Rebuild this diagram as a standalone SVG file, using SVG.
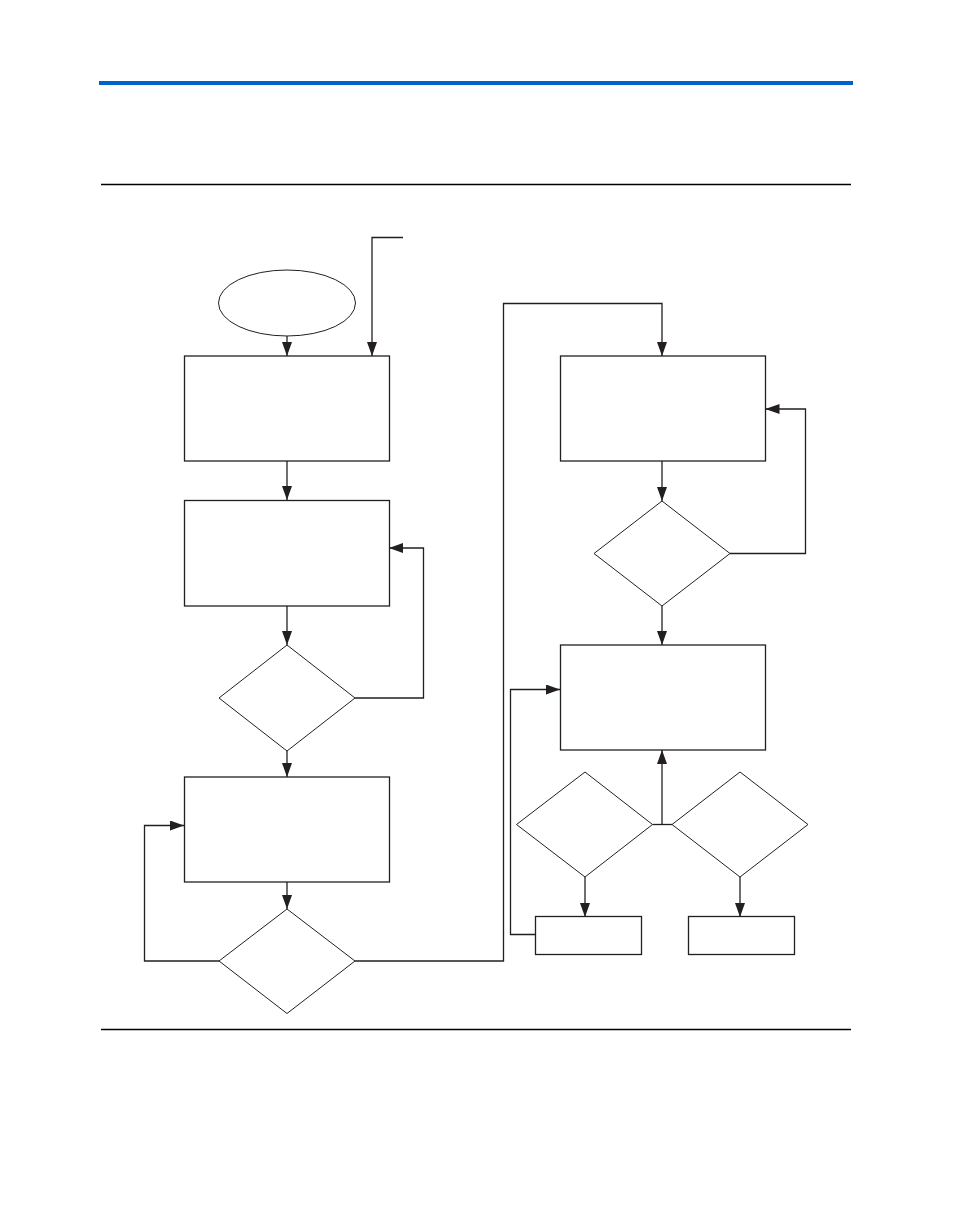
<svg xmlns="http://www.w3.org/2000/svg" width="954" height="1227" viewBox="0 0 954 1227">
<style>
.node{fill:#fff;stroke:#231f20;stroke-width:1.3}
.ell{fill:#fff;stroke:#231f20;stroke-width:1}
.dia{fill:#fff;stroke:#231f20;stroke-width:1}
.conn{fill:none;stroke:#231f20;stroke-width:1.3}
.rule{stroke:#000;stroke-width:1.5}
</style>
<defs>
<marker id="ah" markerUnits="userSpaceOnUse" markerWidth="14" markerHeight="10" refX="14" refY="5" orient="auto">
<path d="M0,0 L14,5 L0,10 z" fill="#231f20"/>
</marker>
</defs>
<rect width="954" height="1227" fill="#fff"/>
<rect x="99" y="81" width="754" height="4" fill="#0062cc"/>
<line class="rule" x1="101" y1="184.5" x2="851" y2="184.5"/>
<line class="rule" x1="101" y1="1029.5" x2="851" y2="1029.5"/>

<g id="connectors">
<path class="conn" d="M287,336 V356" marker-end="url(#ah)"/>
<path class="conn" d="M403,237.5 H372 V356" marker-end="url(#ah)"/>
<path class="conn" d="M287,461 V500" marker-end="url(#ah)"/>
<path class="conn" d="M287,606 V645" marker-end="url(#ah)"/>
<path class="conn" d="M355,698 H423.5 V548 H389" marker-end="url(#ah)"/>
<path class="conn" d="M287,751 V777" marker-end="url(#ah)"/>
<path class="conn" d="M287,882 V909" marker-end="url(#ah)"/>
<path class="conn" d="M219,961 H144.5 V825.5 H184" marker-end="url(#ah)"/>
<path class="conn" d="M355,961 H503.5 V303.5 H662 V356" marker-end="url(#ah)"/>
<path class="conn" d="M662,461 V501" marker-end="url(#ah)"/>
<path class="conn" d="M730,553.5 H805.5 V409 H765.5" marker-end="url(#ah)"/>
<path class="conn" d="M662,606 V645" marker-end="url(#ah)"/>
<path class="conn" d="M652.5,824.5 H672"/>
<path class="conn" d="M662,824.5 V750" marker-end="url(#ah)"/>
<path class="conn" d="M585,877 V917" marker-end="url(#ah)"/>
<path class="conn" d="M740,877 V917" marker-end="url(#ah)"/>
<path class="conn" d="M535,934.5 H510.5 V689.5 H560" marker-end="url(#ah)"/>
</g>

<g id="start"><ellipse class="ell" cx="287" cy="303" rx="68.5" ry="33"/></g>
<g id="box1"><rect class="node" x="184.5" y="356" width="205" height="105"/></g>
<g id="box2"><rect class="node" x="184.5" y="500.5" width="205" height="105.5"/></g>
<g id="dec1"><polygon class="dia" points="287,645 355,698 287,751 219,698"/></g>
<g id="box3"><rect class="node" x="184.5" y="777" width="205" height="105"/></g>
<g id="dec2"><polygon class="dia" points="287,909 355,961 287,1013.5 219,961"/></g>
<g id="box4"><rect class="node" x="560.5" y="356" width="205" height="105"/></g>
<g id="dec3"><polygon class="dia" points="662,501 730,553.5 662,606 594,553.5"/></g>
<g id="box5"><rect class="node" x="560.5" y="645" width="205" height="105"/></g>
<g id="dec4"><polygon class="dia" points="585,772 652.5,824.5 585,877 516.5,824.5"/></g>
<g id="dec5"><polygon class="dia" points="740,772 808,824.5 740,877 672,824.5"/></g>
<g id="box6"><rect class="node" x="535.5" y="916.5" width="106" height="38"/></g>
<g id="box7"><rect class="node" x="688.5" y="916.5" width="106" height="38"/></g>
</svg>
